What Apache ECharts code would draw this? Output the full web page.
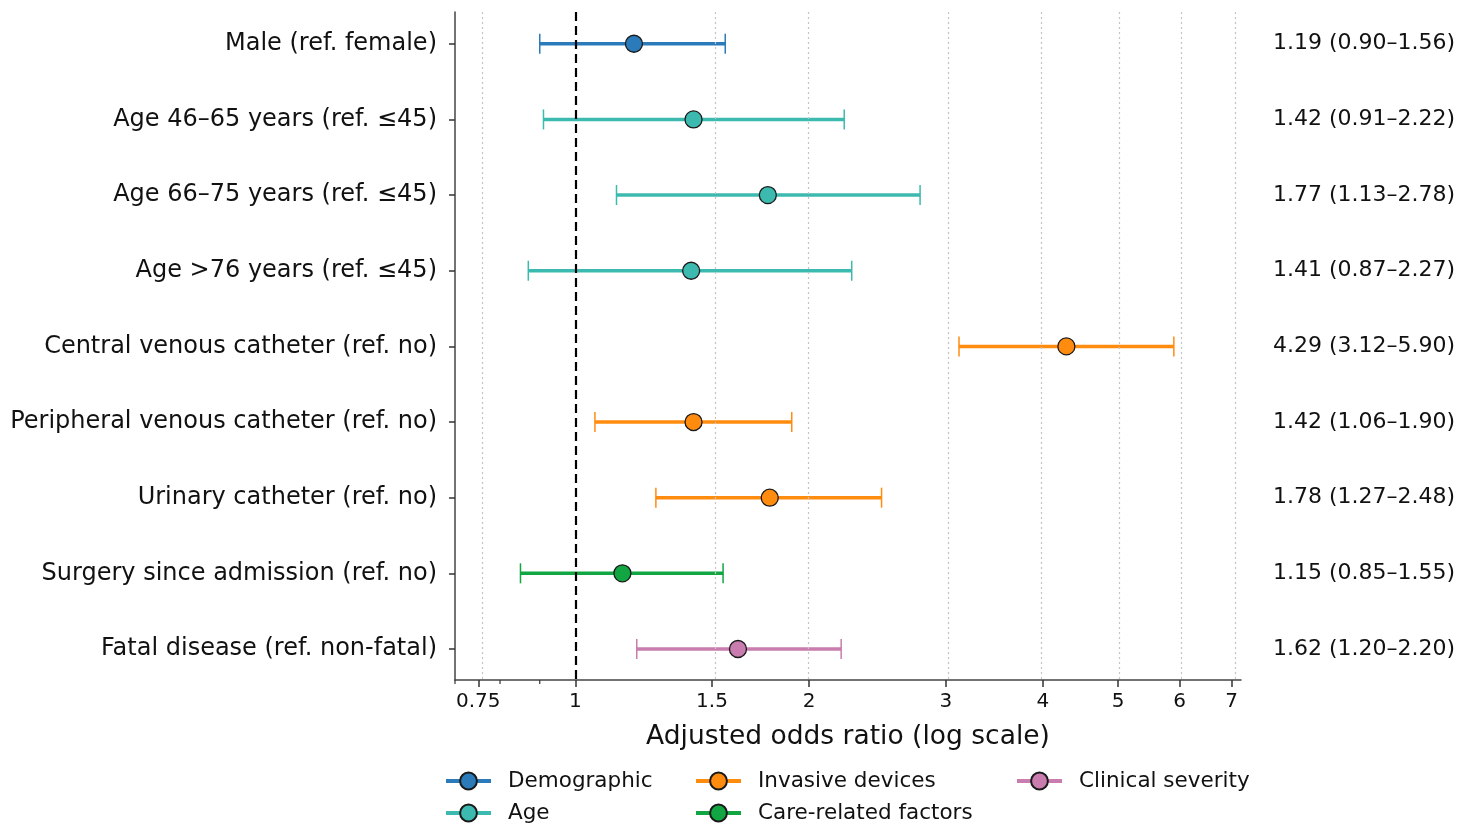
<!DOCTYPE html>
<html style="height: 100%">
<head>
<meta charset="utf-8">
<script src="https://cdn.jsdelivr.net/npm/echarts@6/dist/echarts.min.js"></script>
</head>
<body style="height: 100%; margin: 0; background: #fff">
<div id="container" style="width: 1470px; height: 839px"></div>
<script>
var labels = [
  'Male (ref. female)',
  'Age 46–65 years (ref. ≤45)',
  'Age 66–75 years (ref. ≤45)',
  'Age >76 years (ref. ≤45)',
  'Central venous catheter (ref. no)',
  'Peripheral venous catheter (ref. no)',
  'Urinary catheter (ref. no)',
  'Surgery since admission (ref. no)',
  'Fatal disease (ref. non-fatal)'
];
var oddsRatio = [1.19, 1.42, 1.77, 1.41, 4.29, 1.42, 1.78, 1.15, 1.62];
var ciLow     = [0.90, 0.91, 1.13, 0.87, 3.12, 1.06, 1.27, 0.85, 1.20];
var ciHigh    = [1.56, 2.22, 2.78, 2.27, 5.90, 1.90, 2.48, 1.55, 2.20];
var groupOf   = [0, 1, 1, 1, 2, 2, 2, 3, 4];
var groups = ['Demographic', 'Age', 'Invasive devices', 'Care-related factors', 'Clinical severity'];
var groupColors = ['#2b7bba', '#3cbab0', '#ff8c0f', '#11a642', '#c97cae'];
var xTicks = [0.75, 1, 1.5, 2, 3, 4, 5, 6, 7];
var xMinorTicks = [0.7, 0.8, 0.9];

var FONT = 'DejaVu Sans';
var lg = Math.log10;

var dom = document.getElementById('container');
var myChart = echarts.init(dom);

// error bars (one item per row)
var barData = labels.map(function (name, i) {
  return [i, lg(ciLow[i]), lg(ciHigh[i]), groupOf[i]];
});

// point series per group, '-' between points so no connecting line
var pointSeries = groups.map(function (g, gi) {
  var d = [];
  for (var i = 0; i < labels.length; i++) {
    if (groupOf[i] !== gi) continue;
    if (d.length) d.push(['-', '-']);
    d.push([lg(oddsRatio[i]), i]);
  }
  return {
    name: g,
    type: 'line',
    data: d,
    z: 5,
    symbol: 'circle',
    symbolSize: 17,
    connectNulls: false,
    lineStyle: { color: groupColors[gi], width: 3.5 },
    itemStyle: { color: groupColors[gi], borderColor: '#1a1a1a', borderWidth: 1.3 },
    emphasis: { disabled: true },
    animation: false
  };
});

var annotations = labels.map(function (n, i) {
  return oddsRatio[i].toFixed(2) + ' (' + ciLow[i].toFixed(2) + '–' + ciHigh[i].toFixed(2) + ')';
});

var legendPos = [[444, 770], [444, 802], [694, 770], [694, 802], [1015, 770]];
var legends = groups.map(function (g, gi) {
  return {
    data: [g],
    left: legendPos[gi][0],
    top: legendPos[gi][1],
    padding: 0,
    itemWidth: 45,
    itemHeight: 21,
    selectedMode: false,
    lineStyle: { width: 4 },
    textStyle: { fontFamily: FONT, fontSize: 21.5, color: '#111', padding: [0, 0, 0, 12] }
  };
});

var option = {
  backgroundColor: '#fff',
  animation: false,
  legend: legends,
  grid: { left: 455, right: 229, top: 12, bottom: 159, containLabel: false },
  xAxis: {
    type: 'value',
    min: lg(0.7),
    max: lg(7.2),
    name: 'Adjusted odds ratio (log scale)',
    nameLocation: 'middle',
    nameGap: 44,
    nameTextStyle: { fontFamily: FONT, fontSize: 26.5, color: '#111' },
    axisLine: { onZero: false, lineStyle: { color: '#444', width: 1.5 } },
    axisTick: { length: 7, lineStyle: { color: '#333', width: 1.5 }, customValues: xTicks.map(lg) },
    axisLabel: {
      customValues: xTicks.map(lg),
      margin: 12,
      fontFamily: FONT, fontSize: 20, color: '#111',
      formatter: function (v) { return String(+Math.pow(10, v).toFixed(2)); }
    },
    splitLine: { show: false }
  },
  yAxis: [{
    type: 'value',
    inverse: true,
    min: -0.42,
    max: 8.41,
    axisLine: { show: true, onZero: false, lineStyle: { color: '#444', width: 1.5 } },
    axisTick: { show: true, length: 6, lineStyle: { color: '#333', width: 1.5 }, customValues: labels.map(function (n, i) { return i; }) },
    axisLabel: {
      customValues: labels.map(function (n, i) { return i; }),
      margin: 18,
      fontFamily: FONT, fontSize: 24, color: '#111',
      padding: [3, 0, 0, 0],
      formatter: function (v) { return labels[Math.round(v)]; }
    },
    splitLine: { show: false }
  }, {
    type: 'value',
    inverse: true,
    position: 'right',
    min: -0.42,
    max: 8.41,
    axisLine: { show: false, onZero: false },
    axisTick: { show: false },
    axisLabel: {
      customValues: labels.map(function (n, i) { return i; }),
      margin: 32,
      fontFamily: FONT, fontSize: 22, color: '#111',
      formatter: function (v) { return annotations[Math.round(v)]; }
    },
    splitLine: { show: false }
  }],
  series: [{
    // minor ticks below the x axis, also carries the dotted grid lines
    type: 'custom',
    z: 1,
    clip: false,
    silent: true,
    data: xMinorTicks.map(lg),
    encode: { x: 0 },
    renderItem: function (params, api) {
      var p = api.coord([api.value(0), 8.41]);
      return {
        type: 'line',
        shape: { x1: p[0], y1: p[1], x2: p[0], y2: p[1] + 4 },
        style: { stroke: '#333', lineWidth: 1.2 }
      };
    },
    markLine: {
      silent: true,
      symbol: 'none',
      label: { show: false },
      lineStyle: { color: '#c4c4c4', type: [2, 3], width: 1.2 },
      data: xTicks.filter(function (v) { return v !== 1; }).map(function (v) { return { xAxis: lg(v) }; })
    }
  }, {
    // confidence intervals
    type: 'custom',
    z: 3,
    silent: true,
    data: barData,
    encode: { x: [1, 2], y: 0 },
    renderItem: function (params, api) {
      var row = api.value(0);
      var a = api.coord([api.value(1), row]);
      var b = api.coord([api.value(2), row]);
      var c = groupColors[api.value(3)];
      var cap = 10;
      return {
        type: 'group',
        children: [
          { type: 'line', shape: { x1: a[0], y1: a[1], x2: b[0], y2: b[1] }, style: { stroke: c, lineWidth: 3.5 } },
          { type: 'line', shape: { x1: a[0], y1: a[1] - cap, x2: a[0], y2: a[1] + cap }, style: { stroke: c, lineWidth: 1.5 } },
          { type: 'line', shape: { x1: b[0], y1: b[1] - cap, x2: b[0], y2: b[1] + cap }, style: { stroke: c, lineWidth: 1.5 } }
        ]
      };
    },
    markLine: {
      silent: true,
      symbol: 'none',
      label: { show: false },
      z: 4,
      lineStyle: { color: '#000', type: [9, 5], width: 2.2 },
      data: [{ xAxis: 0 }]
    }
  }].concat(pointSeries)
};

myChart.setOption(option, true);
</script>
</body>
</html>
